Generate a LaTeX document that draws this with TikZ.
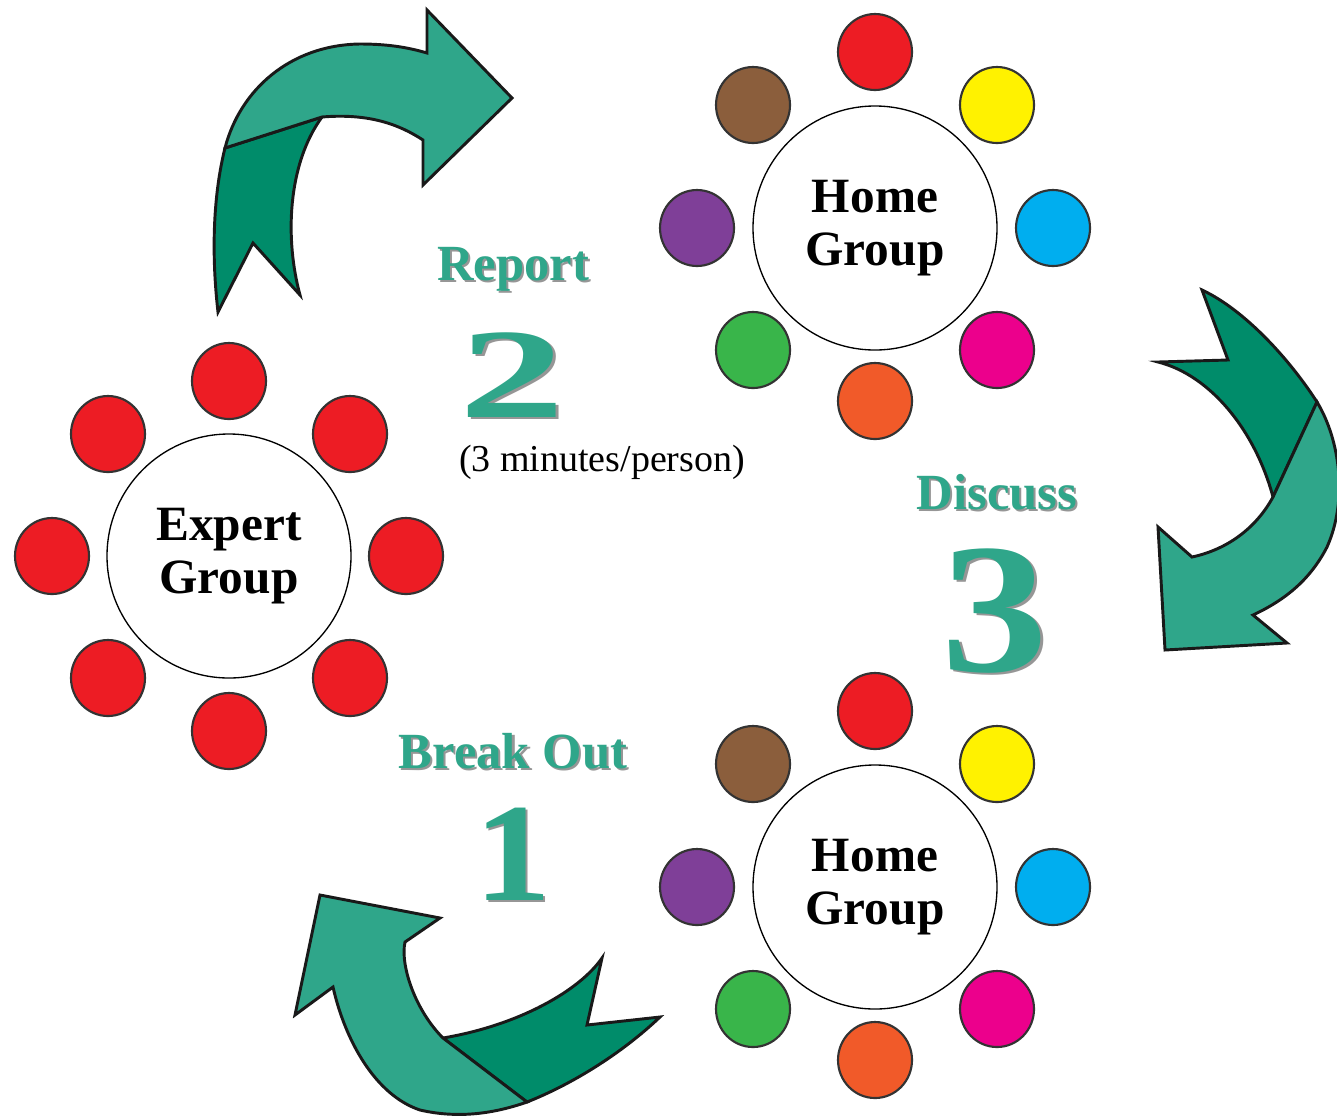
\documentclass[tikz,border=0pt]{standalone}
\usepackage{fontspec}
\setmainfont{Liberation Serif}
\usetikzlibrary{shapes.geometric}
\definecolor{tealL}{RGB}{47,166,138}
\definecolor{tealD}{RGB}{0,140,106}
\definecolor{cRed}{RGB}{237,28,36}
\definecolor{cYellow}{RGB}{255,242,0}
\definecolor{cBlue}{RGB}{0,174,239}
\definecolor{cMagenta}{RGB}{236,0,140}
\definecolor{cOrange}{RGB}{241,90,41}
\definecolor{cGreen}{RGB}{57,181,74}
\definecolor{cPurple}{RGB}{127,63,152}
\definecolor{cBrown}{RGB}{139,94,60}
\definecolor{shade}{RGB}{150,150,150}
\newcommand{\shadowed}[1]{\rlap{\kern1.6pt\raisebox{-1.8pt}{\textcolor{shade}{#1}}}#1}
\tikzset{
  seat/.style={ellipse, draw=black!80, line width=1.6pt, minimum width=55.5pt, minimum height=57pt, inner sep=0pt},
  table/.style={circle, draw=black, line width=1pt, minimum size=183pt, inner sep=0pt, align=center,
     font=\bfseries\fontsize{37}{40}\selectfont},
  band/.style={line width=2.2pt, draw=black!90, line join=miter},
  steplabel/.style={text=tealL, font=\bfseries\fontsize{38}{40}\selectfont, inner sep=0pt},
  note/.style={font=\fontsize{28.5}{30}\selectfont, inner sep=0pt}
}
\begin{document}
\begin{tikzpicture}[x=0.75pt, y=-0.75pt]
\useasboundingbox (0,0) rectangle (1337,1118);
\clip (0,0) rectangle (1337,1118);

% ---------- arrows ----------
% top-left arrow (Report)
\filldraw[band, fill=tealD] (225,148) .. controls (212,200) and (212,260) .. (218,312)
  -- (253,243) -- (300,295) .. controls (285,240) and (287,165) .. (322,117) -- cycle;
\filldraw[band, fill=tealL] (225,148) .. controls (240,90) and (290,45) .. (360,44)
  .. controls (390,44) and (410,48) .. (427,53) -- (427,10) -- (512,98) -- (423,185) -- (423,140)
  .. controls (400,125) and (370,113) .. (322,117) -- cycle;

% right arrow (Discuss)
\filldraw[band, fill=tealD] (1202,290) -- (1228,360) -- (1158,362)
  .. controls (1210,375) and (1255,430) .. (1273,497) -- (1317,402)
  .. controls (1290,360) and (1245,310) .. (1202,290) -- cycle;
\filldraw[band, fill=tealL] (1317,402) .. controls (1340,440) and (1348,500) .. (1327,547)
  .. controls (1310,580) and (1285,600) .. (1253,615) -- (1287,643) -- (1165,650) -- (1158,527)
  -- (1192,557) .. controls (1225,550) and (1255,530) .. (1273,497) -- cycle;

% bottom arrow (Break Out)
\filldraw[band, fill=tealD] (660,1017) -- (587,1025) -- (602,958)
  .. controls (580,990) and (520,1025) .. (443,1038) -- (527,1102)
  .. controls (570,1085) and (620,1055) .. (660,1017) -- cycle;
\filldraw[band, fill=tealL] (527,1102) .. controls (490,1115) and (455,1118) .. (420,1110)
  .. controls (375,1095) and (345,1040) .. (333,987) -- (295,1015) -- (320,895) -- (440,918)
  -- (405,942) .. controls (400,965) and (415,1010) .. (443,1038) -- cycle;

% ---------- expert group ----------
\node[table] (expert) at (229,556) {Expert\\Group};
\node[seat, fill=cRed] (e1) at (229,381) {};
\node[seat, fill=cRed] (e2) at (350,434) {};
\node[seat, fill=cRed] (e3) at (406,556) {};
\node[seat, fill=cRed] (e4) at (350,678) {};
\node[seat, fill=cRed] (e5) at (229,731) {};
\node[seat, fill=cRed] (e6) at (108,678) {};
\node[seat, fill=cRed] (e7) at (52,556) {};
\node[seat, fill=cRed] (e8) at (108,434) {};

% ---------- home group top ----------
\node[table] (homeA) at (875,228) {Home\\Group};
\node[seat, fill=cRed] (a1) at (875,52) {};
\node[seat, fill=cYellow] (a2) at (997,105) {};
\node[seat, fill=cBlue] (a3) at (1053,228) {};
\node[seat, fill=cMagenta] (a4) at (997,350) {};
\node[seat, fill=cOrange] (a5) at (875,401) {};
\node[seat, fill=cGreen] (a6) at (753,350) {};
\node[seat, fill=cPurple] (a7) at (697,228) {};
\node[seat, fill=cBrown] (a8) at (753,105) {};

% ---------- home group bottom ----------
\node[table] (homeB) at (875,887) {Home\\Group};
\node[seat, fill=cRed] (b1) at (875,711) {};
\node[seat, fill=cYellow] (b2) at (997,764) {};
\node[seat, fill=cBlue] (b3) at (1053,887) {};
\node[seat, fill=cMagenta] (b4) at (997,1009) {};
\node[seat, fill=cOrange] (b5) at (875,1060) {};
\node[seat, fill=cGreen] (b6) at (753,1009) {};
\node[seat, fill=cPurple] (b7) at (697,887) {};
\node[seat, fill=cBrown] (b8) at (753,764) {};

% ---------- step labels ----------
\node[steplabel] (report) at (513,270) {\shadowed{Report}};
\node[steplabel] (two) at (512,376) {\scalebox{1.65}[1]{\fontsize{96}{96}\selectfont\shadowed{2}}};
\node[note] (minutes) at (602,462) {(3 minutes/person)};

\node[steplabel] (discuss) at (997,493) {\shadowed{Discuss}};
\node[steplabel] (three) at (995,612) {\scalebox{1.15}[1]{\fontsize{139}{139}\selectfont\shadowed{3}}};

\node[steplabel] (break) at (513,752) {\shadowed{Break Out}};
\node[steplabel] (one) at (513,855) {\scalebox{1.1}[1]{\fontsize{105}{105}\selectfont\shadowed{1}}};
\end{tikzpicture}
\end{document}
